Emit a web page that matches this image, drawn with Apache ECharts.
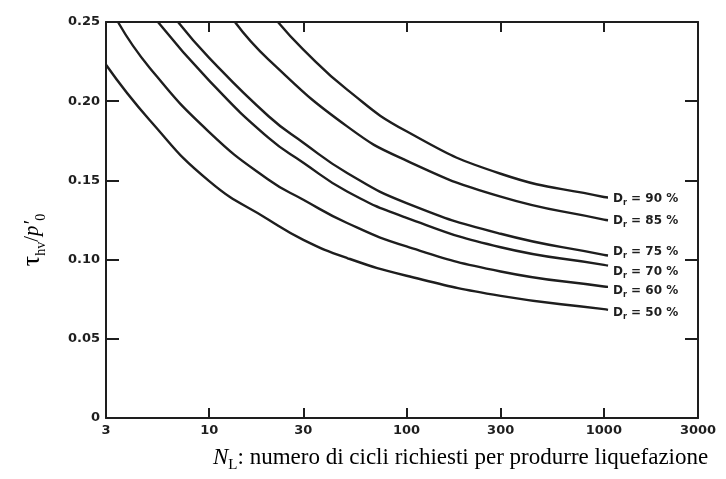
<!DOCTYPE html>
<html>
<head>
<meta charset="utf-8">
<script src="https://cdn.jsdelivr.net/npm/echarts@6/dist/echarts.min.js"></script>
<style>
  html, body { margin: 0; padding: 0; background: #ffffff; }
  #chart { width: 726px; height: 479px; }
</style>
</head>
<body>
<div id="chart"></div>
<script>
// ---- Data ----
const xTickLabels = [3, 10, 30, 100, 300, 1000, 3000];
const xInnerTicks = [10, 30, 100, 300, 1000];

const densities = ['90', '85', '75', '70', '60', '50'];

const cycles90 = [22.3, 30, 50, 100, 300, 1000, 1050];
const ratio90  = [0.25, 0.2326, 0.2073, 0.181, 0.1542, 0.1395, 0.1392];

const cycles85 = [13.5, 20, 50, 100, 300, 1000, 1050];
const ratio85  = [0.25, 0.2263, 0.1841, 0.1625, 0.1397, 0.1252, 0.1248];

const cycles75 = [6.95, 10, 20, 30, 50, 100, 300, 1000, 1050];
const ratio75  = [0.25, 0.2274, 0.1905, 0.1738, 0.1547, 0.1357, 0.1163, 0.103, 0.1026];

const cycles70 = [5.5, 10, 20, 30, 50, 100, 300, 1000, 1050];
const ratio70  = [0.25, 0.213, 0.1768, 0.1612, 0.143, 0.1264, 0.1078, 0.0967, 0.0962];

const cycles60 = [3.45, 5, 10, 20, 30, 50, 100, 300, 1000, 1050];
const ratio60  = [0.25, 0.221, 0.1805, 0.1504, 0.1378, 0.1231, 0.1083, 0.0925, 0.083, 0.0828];

const cycles50 = [3, 5, 10, 20, 30, 50, 100, 300, 1000, 1050];
const ratio50  = [0.223, 0.188, 0.1495, 0.1252, 0.1125, 0.101, 0.0898, 0.0771, 0.0687, 0.0683];

const cyclesAll = [cycles90, cycles85, cycles75, cycles70, cycles60, cycles50];
const ratioAll  = [ratio90, ratio85, ratio75, ratio70, ratio60, ratio50];

// ---- Chart ----
const lg = v => Math.log10(v);
const ink = '#1e1e1e';
const labelOffsets = [[0, 1], [0, 1], [0, -4], [0, 6], [0, 4], [0, 3]];

const series = densities.map((d, i) => ({
  type: 'line',
  name: 'Dr ' + d,
  xAxisIndex: 0,
  yAxisIndex: 0,
  data: cyclesAll[i].map((n, j) => [lg(n), ratioAll[i][j]]),
  smooth: 0.5,
  showSymbol: false,
  symbol: 'none',
  silent: true,
  lineStyle: { color: ink, width: 2.4 },
  endLabel: {
    show: true,
    distance: 5,
    offset: labelOffsets[i],
    formatter: () => '{d|D}{r|r}{t| = ' + d + ' %}',
    rich: {
      d: { fontFamily: 'DejaVu Sans', fontSize: 12, color: ink, fontWeight: 'bold' },
      r: { fontFamily: 'DejaVu Sans', fontSize: 8, color: ink, verticalAlign: 'bottom', lineHeight: 16, fontWeight: 'bold' },
      t: { fontFamily: 'DejaVu Sans', fontSize: 12, color: ink, fontWeight: 'bold' }
    }
  }
}));

const xAxisBase = {
  type: 'value',
  min: lg(3),
  max: lg(3000),
  splitLine: { show: false },
  axisLine: { show: true, onZero: false, lineStyle: { color: ink, width: 2 } },
  axisTick: { show: true, inside: true, length: 10, customValues: xInnerTicks.map(lg), lineStyle: { color: ink, width: 2 } }
};

const yAxisBase = {
  type: 'value',
  min: 0,
  max: 0.25,
  interval: 0.05,
  splitLine: { show: false },
  axisLine: { show: true, onZero: false, lineStyle: { color: ink, width: 2 } },
  axisTick: { show: true, inside: true, length: 13, lineStyle: { color: ink, width: 2 } }
};

const option = {
  backgroundColor: '#ffffff',
  animation: false,
  grid: { left: 106, right: 28, top: 22, bottom: 61 },
  title: {
    left: 208,
    top: 437,
    text: '{i|N}{s|L}{n|: numero di cicli richiesti per produrre liquefazione}',
    textStyle: {
      fontWeight: 'normal',
      rich: {
        i: { fontFamily: 'Liberation Serif', fontSize: 23, fontStyle: 'italic', fontWeight: 'normal', color: '#000', lineHeight: 27 },
        s: { fontFamily: 'Liberation Serif', fontSize: 15, fontWeight: 'normal', color: '#000', verticalAlign: 'bottom', lineHeight: 31 },
        n: { fontFamily: 'Liberation Serif', fontSize: 23, fontWeight: 'normal', color: '#000', lineHeight: 27 }
      }
    }
  },
  xAxis: [
    Object.assign({}, xAxisBase, {
      position: 'bottom',
      axisLabel: {
        show: true,
        customValues: xTickLabels.map(lg),
        formatter: v => String(Math.round(Math.pow(10, v))),
        fontFamily: 'DejaVu Sans',
        fontSize: 13,
        fontWeight: 'bold',
        color: ink,
        margin: 6
      }
    }),
    Object.assign({}, xAxisBase, {
      position: 'top',
      axisLabel: { show: false }
    })
  ],
  yAxis: [
    Object.assign({}, yAxisBase, {
      position: 'left',
      axisLabel: {
        formatter: v => (v === 0 ? '0' : v.toFixed(2)),
        fontFamily: 'DejaVu Sans',
        fontSize: 13,
        fontWeight: 'bold',
        color: ink,
        margin: 6
      },
      name: '{t|τ}{s|hv}{n|/}{p|p′}{s|0}',
      nameLocation: 'middle',
      nameRotate: 90,
      nameGap: 58,
      nameTextStyle: {
        padding: [0, 40, 0, 0],
        rich: {
          t: { fontFamily: 'Liberation Serif', fontSize: 26, color: '#000', lineHeight: 28 },
          s: { fontFamily: 'Liberation Serif', fontSize: 14, color: '#000', verticalAlign: 'bottom', lineHeight: 32 },
          n: { fontFamily: 'Liberation Serif', fontSize: 21, color: '#000', lineHeight: 28 },
          p: { fontFamily: 'Liberation Serif', fontSize: 21, fontStyle: 'italic', color: '#000', lineHeight: 28 }
        }
      }
    }),
    Object.assign({}, yAxisBase, {
      position: 'right',
      axisLabel: { show: false }
    })
  ],
  series: series
};

const chart = echarts.init(document.getElementById('chart'), null, { renderer: 'canvas' });
chart.setOption(option);
</script>
</body>
</html>
